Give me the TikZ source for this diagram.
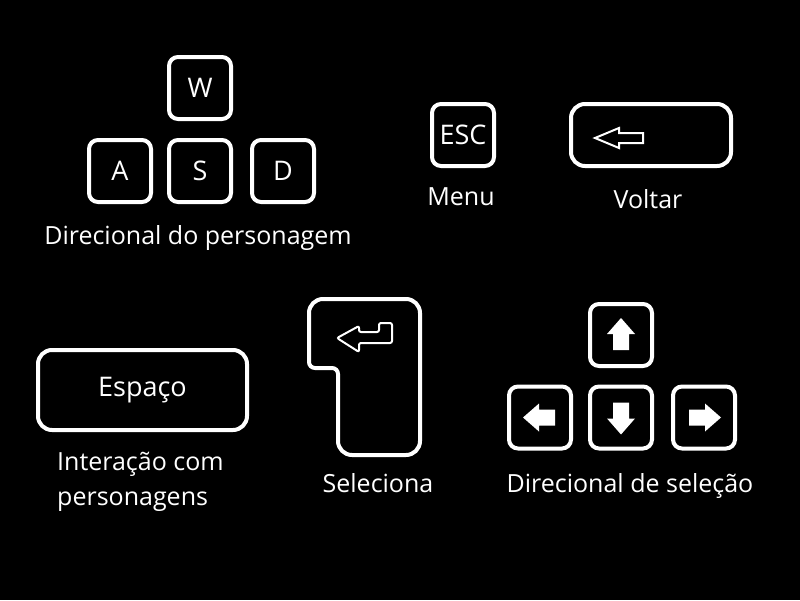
\documentclass[tikz,border=0pt]{standalone}
\usepackage{fontspec}
\setmainfont{Open Sans}
\tikzset{
    key/.style={rectangle,rounded corners=9pt,draw=white,line width=4pt,minimum width=62pt,minimum height=62pt,inner sep=0pt,text=white,font=\fontsize{27}{30}\selectfont},
    widekey/.style={key,rounded corners=14pt},
    caption/.style={text=white,anchor=base,inner sep=0pt,font=\fontsize{25}{35}\selectfont},
    outlinesym/.style={draw=white,line width=2pt,line join=miter},
    fillsym/.style={fill=white},
}

\begin{document}
\begin{tikzpicture}[x=1pt,y=-1pt]
\fill[black] (0,0) rectangle (800,600);
\useasboundingbox (0,0) rectangle (800,600);
% WASD
\node[key] (w) at (200,88) {W};
\node[key] (a) at (120,171) {A};
\node[key] (s) at (200,171) {S};
\node[key] (d) at (283,171) {D};
\node[caption] (wasdlbl) at (198,244) {Direcional do personagem};
% menu and back
\node[key] (esc) at (463,135) {ESC};
\node[caption] (esclbl) at (461,205) {Menu};
\node[widekey,minimum width=160pt] (back) at (651,135) {};
\draw[outlinesym] (595,138) -- (619,128) -- (619,133) -- (643,133) -- (643,143) -- (619,143) -- (619,148) -- cycle;
\node[caption] (backlbl) at (648,208) {Voltar};
% space
\node[widekey,minimum width=209pt,minimum height=80pt] (space) at (142.5,390) {Espaço};
\node[caption,anchor=base west,align=left] (spacelbl) at (57,505) {Interação com\\personagens};
% enter
\draw[white,line width=4pt,rounded corners=14pt] (309,299) -- (420,299) -- (420,455) -- (338,455) [rounded corners=6pt] -- (338,368) -- (309,368) [rounded corners=14pt] -- cycle;
\draw[outlinesym,rounded corners=2pt] (337,338) -- (359,326) -- (359,332) -- (379,332) -- (379,323) -- (392,323) -- (392,343) -- (359,343) -- (359,352) -- cycle;
\node[caption] (enterlbl) at (378,492) {Seleciona};
% arrow keys
\node[key] (up) at (621,335) {};
\node[key] (left) at (540,417.5) {};
\node[key] (down) at (621,417.5) {};
\node[key] (right) at (704,417.5) {};
\foreach \k/\ang in {up/0, left/90, down/180, right/-90}
    \fill[fillsym,shift={(\k.center)},rotate=\ang] (0,-17) -- (14,-1) -- (8,-1) -- (8,15) -- (-8,15) -- (-8,-1) -- (-14,-1) -- cycle;
\node[caption] (arrowlbl) at (630,492) {Direcional de seleção};
\end{tikzpicture}
\end{document}
